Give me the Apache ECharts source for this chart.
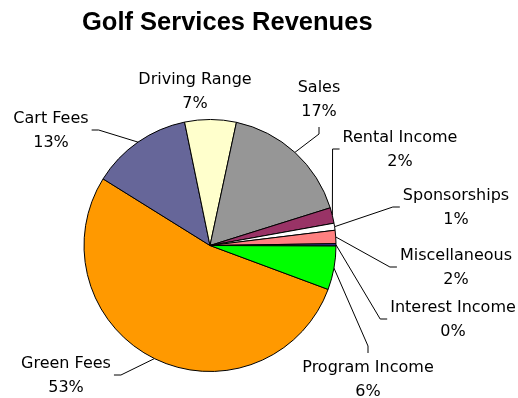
<!DOCTYPE html>
<html>
<head>
<meta charset="utf-8">
<script src="https://cdn.jsdelivr.net/npm/echarts@6/dist/echarts.min.js"></script>
<style>
  html, body { margin: 0; padding: 0; background: #ffffff; }
  #chart { width: 518px; height: 398px; }
</style>
</head>
<body>
<div id="chart"></div>
<script>
// Revenue shares by service line (percent of total)
const categories = ['Green Fees', 'Cart Fees', 'Driving Range', 'Sales', 'Rental Income',
                    'Sponsorships', 'Miscellaneous', 'Interest Income', 'Program Income'];
const shares = [53.2, 12.9, 6.6, 16.8, 2.0, 0.9, 1.7, 0.3, 5.6];

// Slice fills, same order as categories
const sliceColors = ['#FF9900', '#666699', '#FFFFCC', '#969696', '#993366',
                     '#FFFFFF', '#FF8080', '#333399', '#00FF00'];

// Where each two-line label block is centred, and which side of the block its leader line meets
const labelCenters = [[66, 376], [51, 131], [195, 92], [319, 100], [400, 150],
                      [456, 208], [456, 268], [453, 320], [368, 380]];
const leaderSides = ['right', 'right', 'none', 'bottom', 'left', 'left', 'left', 'left', 'top'];

const chart = echarts.init(document.getElementById('chart'), null, { renderer: 'canvas' });

const LABEL_FONT = '"DejaVu Sans", sans-serif';
const TITLE_FONT = '"Liberation Sans", Arial, sans-serif';

function leaderLayout(params) {
  const i = params.dataIndex;
  const [cx, cy] = labelCenters[i];
  const w = params.labelRect.width;
  const h = params.labelRect.height;
  const pts = params.labelLinePoints;
  const edge = pts ? pts[0] : [cx, cy];
  const side = leaderSides[i];
  const gap = 3, elbow = 7;
  let end, bend;
  if (side === 'right') {
    end = [cx + w / 2 + gap, cy - 1];
    bend = [end[0] + elbow, end[1]];
  } else if (side === 'left') {
    end = [cx - w / 2 - gap, cy - 1];
    bend = [end[0] - elbow, end[1]];
  } else if (side === 'bottom') {
    end = [cx, cy + h / 2 + gap];
    bend = [end[0], end[1] + elbow];
  } else if (side === 'top') {
    end = [cx, cy - h / 2 - gap];
    bend = [end[0], end[1] - elbow];
  } else {
    end = edge; bend = edge;
  }
  return {
    x: cx,
    y: cy,
    align: 'center',
    verticalAlign: 'middle',
    labelLinePoints: [edge.slice(), bend, end]
  };
}

chart.setOption({
  animation: false,
  backgroundColor: '#ffffff',
  title: {
    text: 'Golf Services Revenues',
    left: 82,
    top: 8,
    padding: 0,
    textStyle: {
      fontFamily: TITLE_FONT,
      fontWeight: 'bold',
      fontSize: 25.5,
      lineHeight: 30,
      color: '#000000'
    }
  },
  series: [{
    type: 'pie',
    center: [210, 245.5],
    radius: 126,
    startAngle: -20.4,
    clockwise: true,
    avoidLabelOverlap: false,
    silent: true,
    emphasis: { disabled: true },
    itemStyle: { borderColor: '#000000', borderWidth: 1 },
    label: {
      show: true,
      position: 'outside',
      fontFamily: LABEL_FONT,
      fontSize: 16,
      lineHeight: 24,
      color: '#000000',
      align: 'center',
      formatter: p => p.name + '\n' + Math.round(p.percent) + '%'
    },
    labelLine: {
      show: true,
      length: 10,
      length2: 10,
      lineStyle: { color: '#000000', width: 1 }
    },
    labelLayout: leaderLayout,
    data: categories.map((name, i) => ({
      name: name,
      value: shares[i],
      itemStyle: { color: sliceColors[i] }
    }))
  }]
});
</script>
</body>
</html>
